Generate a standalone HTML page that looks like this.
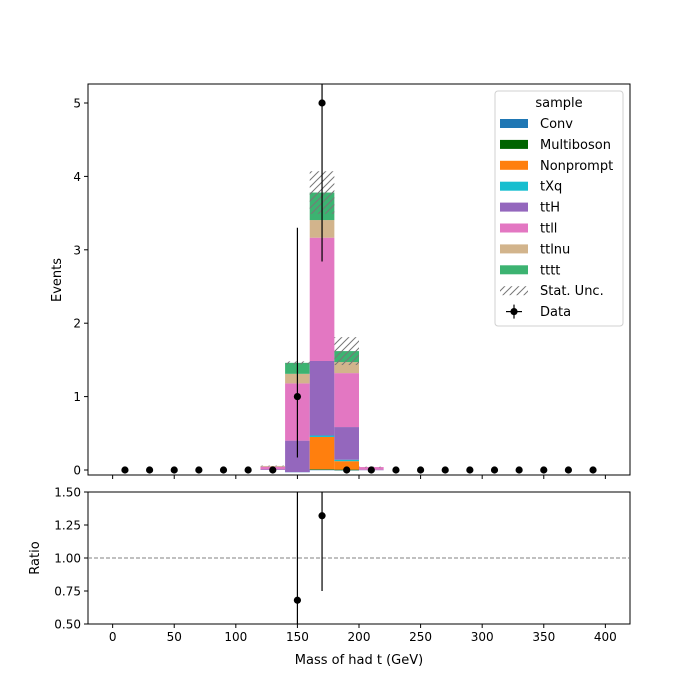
<!DOCTYPE html>
<html><head><meta charset="utf-8"><style>
body{margin:0;background:#fff}
svg{display:block;font-family:"DejaVu Sans","Liberation Sans",sans-serif}
</style></head><body>
<svg id="c" width="700" height="700" viewBox="0 0 700 700">
<defs>
<pattern id="hatch" patternUnits="userSpaceOnUse" width="7" height="7" patternTransform="rotate(0)">
<path d="M-1,8 L8,-1 M-1,1 L1,-1 M6,8 L8,6" stroke="#777" stroke-width="1"/>
</pattern>
</defs>
</svg>
<script>
const binEdgesLo = [120,140,160,180,200];
const samples = ["Conv","Multiboson","Nonprompt","tXq","ttH","ttll","ttlnu","tttt"];
const colors = ["#1f77b4","#006400","#ff7f0e","#17becf","#9467bd","#e377c2","#d2b48c","#3cb371"];
const conv =       [0,    0,    0.005, 0.003, 0];
const multiboson = [0,    0,    0.005, 0.002, 0];
const nonprompt =  [0,    0,    0.44,  0.115, 0];
const tXq =        [0,   -0.03, 0.02,  0.02,  0];
const ttH =        [0.01, 0.43, 1.015, 0.445, 0.005];
const ttll =       [0.035,0.78, 1.68,  0.735, 0.035];
const ttlnu =      [0.01, 0.13, 0.24,  0.15,  0.0];
const tttt =       [0,    0.15, 0.375, 0.15,  0];
const statUnc =    [0.005,0.02, 0.29,  0.19,  0.005];
const dataX = [10,30,50,70,90,110,130,150,170,190,210,230,250,270,290,310,330,350,370,390];
const dataY = [0,0,0,0,0,0,0,1,5,0,0,0,0,0,0,0,0,0,0,0];
const dataErrLo = [0,0,0,0,0,0,0,0.83,2.16,0,0,0,0,0,0,0,0,0,0,0];
const dataErrHi = [0,0,0,0,0,0,0,2.3,3.38,0,0,0,0,0,0,0,0,0,0,0];
const ratioX = [150,170];
const ratioY = [0.68,1.32];
const ratioErrLo = [0.57,0.57];
const ratioErrHi = [1.58,0.9];
const xTicks = [0,50,100,150,200,250,300,350,400];
const yTicks = [0,1,2,3,4,5];
const rTicks = [0.5,0.75,1.0,1.25,1.5];
const rTickLabels = ["0.50","0.75","1.00","1.25","1.50"];

const svg = document.getElementById('c');
const NS = "http://www.w3.org/2000/svg";
function mk(tag, attrs, parent){const e=document.createElementNS(NS,tag);for(const k in attrs)e.setAttribute(k,attrs[k]);(parent||svg).appendChild(e);return e;}
const L=88,R=630,T=84,B=475,RT=492,RB=624;
const x = v => L + (v+20)/440*(R-L);
const y = v => 470 - v*73.4;
const yr = v => RB - (v-0.5)/1.0*(RB-RT);

// stacks
const series=[conv,multiboson,nonprompt,tXq,ttH,ttll,ttlnu,tttt];
const gStack = mk('g',{});


const totals=[];
for(let b=0;b<binEdgesLo.length;b++){
  let base=0;
  for(let s=0;s<series.length;s++){
    const v=series[s][b]; if(v===0) continue;
    const top=base+v;
    const r=mk('rect',{x:x(binEdgesLo[b]),width:x(binEdgesLo[b]+20)-x(binEdgesLo[b]),y:Math.min(y(base),y(top)),height:Math.max(Math.abs(y(base)-y(top)),0.6),fill:colors[s]},gStack);
    
    
    base=top;
  }
  totals.push(base);
}
for(let b=0;b<binEdgesLo.length;b++){
  const u=statUnc[b];
  const r=mk('rect',{x:x(binEdgesLo[b]),width:x(binEdgesLo[b]+20)-x(binEdgesLo[b]),y:y(totals[b]+u),height:y(totals[b]-u)-y(totals[b]+u),fill:'url(#hatch)'},gStack);
  
  
}
// clip area: data points
const gData=mk('g',{'clip-path':'url(#cp)'});
mk('clipPath',{id:'cp'},svg.querySelector('defs')).appendChild(Object.assign(document.createElementNS(NS,'rect'),{}));
svg.querySelector('#cp rect').setAttribute('x',L);svg.querySelector('#cp rect').setAttribute('y',T);
svg.querySelector('#cp rect').setAttribute('width',R-L);svg.querySelector('#cp rect').setAttribute('height',B-T);


for(let i=0;i<dataX.length;i++){
  if(dataErrLo[i]||dataErrHi[i]){
    const l=mk('line',{x1:x(dataX[i]),x2:x(dataX[i]),y1:y(dataY[i]-dataErrLo[i]),y2:y(dataY[i]+dataErrHi[i]),stroke:'#000','stroke-width':1.2},gData);
    
    
  }
  const c=mk('circle',{cx:x(dataX[i]),cy:y(dataY[i]),r:3.6,fill:'#000'},gData);
  
  
}
// axes frames
const f1=mk('rect',{x:L,y:T,width:R-L,height:B-T,fill:'none',stroke:'#000','stroke-width':1});


const f2=mk('rect',{x:L,y:RT,width:R-L,height:RB-RT,fill:'none',stroke:'#000','stroke-width':1});


// ticks
for(const t of xTicks){
  mk('line',{x1:x(t),x2:x(t),y1:B,y2:B+4,stroke:'#000'});
  mk('line',{x1:x(t),x2:x(t),y1:RB,y2:RB+4,stroke:'#000'});
  const tx=mk('text',{x:x(t),y:RB+17,'font-size':12,'text-anchor':'middle'});tx.textContent=t;
  
  
}
for(const t of yTicks){
  mk('line',{x1:L-4,x2:L,y1:y(t),y2:y(t),stroke:'#000'});
  const tx=mk('text',{x:L-7,y:y(t)+4.5,'font-size':12,'text-anchor':'end'});tx.textContent=t;
  
  
}
for(let i=0;i<rTicks.length;i++){
  mk('line',{x1:L-4,x2:L,y1:yr(rTicks[i]),y2:yr(rTicks[i]),stroke:'#000'});
  const tx=mk('text',{x:L-7,y:yr(rTicks[i])+4.5,'font-size':12,'text-anchor':'end'});tx.textContent=rTickLabels[i];
  
  
}
// ratio
const dl=mk('line',{x1:L,x2:R,y1:yr(1),y2:yr(1),stroke:'#808080','stroke-dasharray':'4,2','stroke-width':1});


for(let i=0;i<ratioX.length;i++){
  const l=mk('line',{x1:x(ratioX[i]),x2:x(ratioX[i]),y1:Math.min(RB,yr(ratioY[i]-ratioErrLo[i])),y2:Math.max(RT,yr(ratioY[i]+ratioErrHi[i])),stroke:'#000','stroke-width':1.2});
  
  
  const c=mk('circle',{cx:x(ratioX[i]),cy:yr(ratioY[i]),r:3.6,fill:'#000'});
  
  
}
// axis titles
let t=mk('text',{x:(L+R)/2,y:664,'font-size':13,'text-anchor':'middle'});t.textContent='Mass of had t (GeV)';

t=mk('text',{x:0,y:0,'font-size':13,'text-anchor':'middle',transform:'translate(61,280) rotate(-90)'});t.textContent='Events';

t=mk('text',{x:0,y:0,'font-size':13,'text-anchor':'middle',transform:'translate(39,558) rotate(-90)'});t.textContent='Ratio';

// legend
const lg=mk('g',{});


mk('rect',{x:495,y:91,width:128,height:235,rx:3,fill:'#fff','fill-opacity':0.8,stroke:'#d0d0d0'},lg);
t=mk('text',{x:559,y:107,'font-size':13,'text-anchor':'middle'},lg);t.textContent='sample';
const labels=samples.concat(['Stat. Unc.','Data']);
for(let i=0;i<labels.length;i++){
  const cy=123.5+i*20.9;
  const e=mk('g',{},lg);
  
  
  if(i<8) mk('rect',{x:500,y:cy-4.5,width:28,height:9,fill:colors[i]},e);
  else if(i===8) mk('rect',{x:500,y:cy-4.5,width:28,height:9,fill:'url(#hatch)'},e);
  else {mk('line',{x1:514,x2:514,y1:cy-7,y2:cy+7,stroke:'#000','stroke-width':1.2},e);mk('line',{x1:506,x2:522,y1:cy,y2:cy,stroke:'#000','stroke-width':1.2},e);mk('circle',{cx:514,cy:cy,r:3.6},e);}
  const tx=mk('text',{x:540,y:cy+4.5,'font-size':13},e);tx.textContent=labels[i];
}
</script>
</body></html>
